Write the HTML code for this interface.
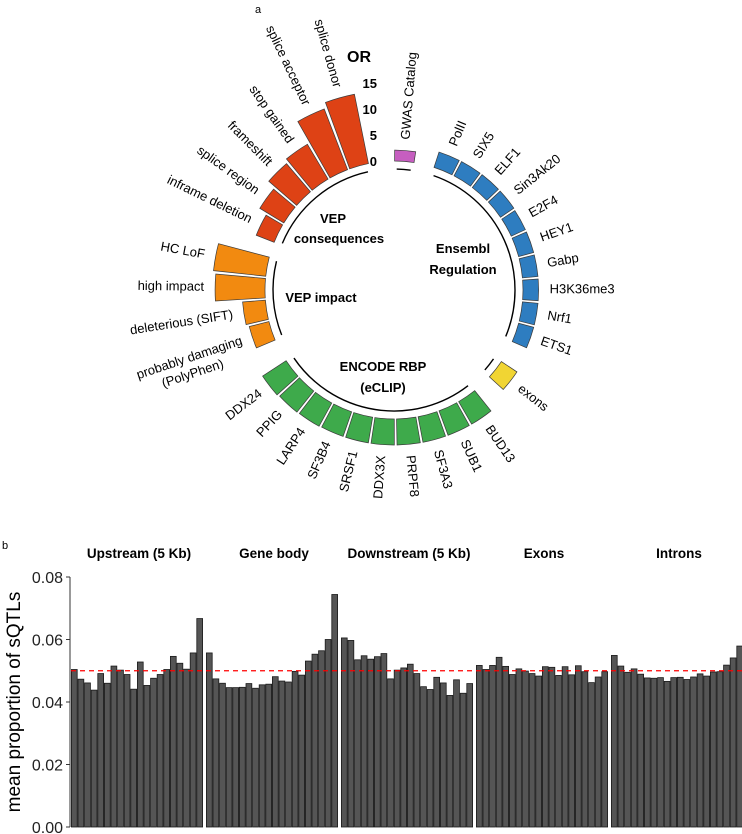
<!DOCTYPE html>
<html><head><meta charset="utf-8">
<style>
html,body{margin:0;padding:0;background:#fff;}
svg{display:block;font-family:"Liberation Sans",Arial,sans-serif;}
</style></head>
<body>
<svg id="fig" width="742" height="834" viewBox="0 0 742 834">
<text x="255" y="13" font-size="11">a</text>
<text x="2" y="549" font-size="11">b</text>
<g id="circ"></g>
<g id="bars"></g>
</svg>
<script>
// ---------- Circular chart data ----------
const circGroups = ["VEP consequences","GWAS Catalog","Ensembl Regulation","exons","ENCODE RBP","VEP impact"];
const circStartAngles = [296, 4.6, 22.4, 128, 145.6, 251.5];
const circColors = ["#DE4215","#C65EC0","#2E7DC0","#F1D533","#3EAA4B","#F28A10"];
const vepConsLabels = ["inframe deletion","splice region","frameshift","stop gained","splice acceptor","splice donor"];
const vepConsValues = [3.7,5.4,7.1,7.8,12.5,13.6];
const gwasLabels = ["GWAS Catalog"];
const gwasValues = [2.1];
const ensemblLabels = ["PolII","SIX5","ELF1","Sin3Ak20","E2F4","HEY1","Gabp","H3K36me3","Nrf1","ETS1"];
const ensemblValues = [3.1,3.1,3.1,3.1,3.0,3.0,3.0,3.0,3.0,3.0];
const exonLabels = ["exons"];
const exonValues = [3.6];
const encodeLabels = ["BUD13","SUB1","SF3A3","PRPF8","DDX3X","SRSF1","SF3B4","LARP4","PPIG","DDX24"];
const encodeValues = [5.0,5.0,5.0,5.0,5.0,5.0,5.0,5.1,5.2,5.4];
const impactLabels = ["probably damaging","deleterious (SIFT)","high impact","HC LoF"];
const impactValues = [3.9,4.4,9.6,10.1];
const orTicks = [0,5,10,15];

const groupLabels = [vepConsLabels,gwasLabels,ensemblLabels,exonLabels,encodeLabels,impactLabels];
const groupValues = [vepConsValues,gwasValues,ensemblValues,exonValues,encodeValues,impactValues];

const CX=394, CY=290, R0=129, K=5.2, STEP=9.65, GUIDE=121;
const NS="http://www.w3.org/2000/svg";
function rScale(v){return R0+v*K;}
function pt(r,a){const t=a*Math.PI/180;return [CX+r*Math.sin(t),CY-r*Math.cos(t)];}
function mk(tag,attrs,parent){const e=document.createElementNS(NS,tag);for(const k in attrs)e.setAttribute(k,attrs[k]);parent.appendChild(e);return e;}
const circ=document.getElementById('circ');

function wedge(a0,a1,r0,r1){
  const p1=pt(r0,a0),p2=pt(r1,a0),p3=pt(r1,a1),p4=pt(r0,a1);
  return `M${p1[0]},${p1[1]}L${p2[0]},${p2[1]}A${r1},${r1} 0 0 1 ${p3[0]},${p3[1]}L${p4[0]},${p4[1]}A${r0},${r0} 0 0 0 ${p1[0]},${p1[1]}Z`;
}

groupLabels.forEach((labs,g)=>{
  const vals=groupValues[g];
  const a0=circStartAngles[g];
  const ga=a0-STEP/2+1.5, gb=a0+STEP*(labs.length-1)+STEP/2-1.5;
  const q1=pt(GUIDE,ga), q2=pt(GUIDE,gb);
  const large=(gb-ga)>180?1:0;
  const arc=mk('path',{d:`M${q1[0]},${q1[1]}A${GUIDE},${GUIDE} 0 ${large} 1 ${q2[0]},${q2[1]}`,fill:'none',stroke:'#000','stroke-width':1.4},circ);
  
  
  labs.forEach((lab,i)=>{
    const a=a0+STEP*i;
    const r1=rScale(vals[i]);
    const p=mk('path',{d:wedge(a-STEP/2+0.5,a+STEP/2-0.5,R0,r1),fill:circColors[g],stroke:'#3a3a3a','stroke-width':0.7},circ);
    
    
    const lr=r1+11;
    const lp=pt(lr,a);
    const right=(a%360)<180;
    const rot=right?a-90:a+90;
    const t=mk('text',{x:lp[0],y:lp[1],'font-size':13,'text-anchor':right?'start':'end','dominant-baseline':'middle',transform:`rotate(${rot} ${lp[0]} ${lp[1]})`},circ);
    t.textContent=lab;
    
    
    if(lab==="probably damaging"){
      const t2=mk('text',{x:lp[0]-25,y:lp[1]+16,'font-size':13,'text-anchor':'end','dominant-baseline':'middle',transform:`rotate(${rot} ${lp[0]} ${lp[1]})`},circ);
      t2.textContent="(PolyPhen)";
      
      
    }
  });
});
orTicks.forEach(v=>{
  const t=mk('text',{x:377,y:CY-rScale(v)+5,'font-size':13,'font-weight':'bold','text-anchor':'end'},circ);
  t.textContent=v;
  
  
});
const orT=mk('text',{x:359,y:62,'font-size':16,'font-weight':'bold','text-anchor':'middle'},circ);
orT.textContent="OR";


const gl=[["VEP",333,223],["consequences",339,243],["Ensembl",463,253],["Regulation",463,274],["VEP impact",321,302],["ENCODE RBP",383,371],["(eCLIP)",383,392]];
gl.forEach(g=>{
  const t=mk('text',{x:g[1],y:g[2],'font-size':13,'font-weight':'bold','text-anchor':'middle'},circ);
  t.textContent=g[0];
  
  
});

// ---------- Bar chart data ----------
const panelNames = ["Upstream (5 Kb)","Gene body","Downstream (5 Kb)","Exons","Introns"];
const upstreamVals = [0.0504,0.0473,0.0461,0.0438,0.0491,0.0460,0.0515,0.0502,0.0488,0.0441,0.0528,0.0453,0.0476,0.0488,0.0504,0.0546,0.0524,0.0505,0.0557,0.0667];
const geneBodyVals = [0.0557,0.0474,0.0460,0.0446,0.0446,0.0447,0.0459,0.0444,0.0455,0.0457,0.0481,0.0467,0.0464,0.0498,0.0486,0.0531,0.0553,0.0564,0.0600,0.0744];
const downstreamVals = [0.0605,0.0597,0.0535,0.0548,0.0537,0.0545,0.0555,0.0474,0.0502,0.0509,0.0521,0.0491,0.0449,0.0440,0.0479,0.0461,0.0421,0.0471,0.0428,0.0459];
const exonsVals = [0.0517,0.0504,0.0517,0.0543,0.0514,0.0488,0.0506,0.0499,0.0491,0.0483,0.0513,0.0511,0.0485,0.0513,0.0487,0.0516,0.0497,0.0462,0.0480,0.0497];
const intronsVals = [0.0549,0.0515,0.0495,0.0506,0.0489,0.0477,0.0476,0.0478,0.0466,0.0478,0.0479,0.0472,0.0480,0.0490,0.0483,0.0496,0.0497,0.0518,0.0541,0.0579];
const yTicks = [0,0.02,0.04,0.06,0.08];
const yTickLabels = ["0.00","0.02","0.04","0.06","0.08"];
const refLine = 0.05;

const panelVals=[upstreamVals,geneBodyVals,downstreamVals,exonsVals,intronsVals];
const bars=document.getElementById('bars');
const Y0=827, YK=250/0.08, PX0=71, PW=132, PG=3;
function y(v){return Y0-v*YK;}
panelVals.forEach((vals,p)=>{
  const x0=PX0+p*(PW+PG);
  const bw=PW/vals.length;
  vals.forEach((v,i)=>{
    const r=mk('rect',{x:x0+i*bw+0.4,y:y(v),width:bw-0.8,height:Y0-y(v),fill:'#555',stroke:'#1a1a1a','stroke-width':0.8},bars);
    
    
  });
  const t=mk('text',{x:x0+PW/2+2,y:558,'font-size':13.5,'font-weight':'bold','text-anchor':'middle'},bars);
  t.textContent=panelNames[p];
  
  
});
const ax=mk('line',{x1:70,y1:y(0.08),x2:70,y2:Y0,stroke:'#333','stroke-width':1},bars);


yTicks.forEach((v,i)=>{
  const l=mk('line',{x1:66,x2:70,y1:y(v),y2:y(v),stroke:'#333'},bars);
  
  
  const t=mk('text',{x:63,y:y(v)+6,'font-size':16,'text-anchor':'end',fill:'#222'},bars);
  t.textContent=yTickLabels[i];
  
  
});
const rl=mk('line',{x1:71,x2:742,y1:y(refLine),y2:y(refLine),stroke:'#f00','stroke-width':1.3,'stroke-dasharray':'5,4'},bars);


const yt=mk('text',{x:0,y:0,'font-size':19,'text-anchor':'middle',transform:'translate(20,702) rotate(-90)'},bars);
yt.textContent="mean proportion of sQTLs";


</script>
</body></html>
